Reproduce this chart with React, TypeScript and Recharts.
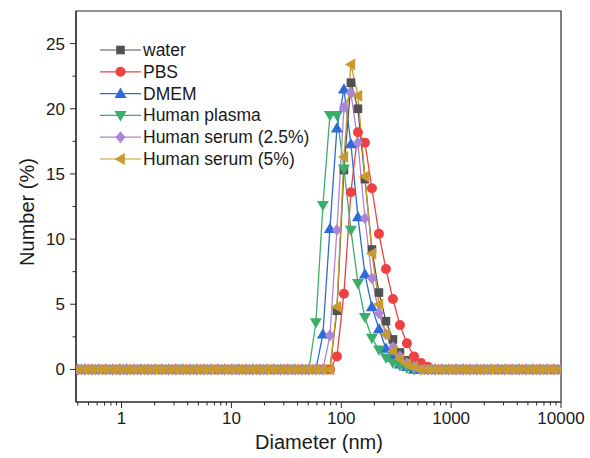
import React from 'react'
import { LineChart, Line, XAxis, YAxis, ReferenceArea, Label } from 'recharts'

// DLS size classes (nm)
const sizes = [
  0.4, 0.4632, 0.5365, 0.6213, 0.7195, 0.8332, 0.9649, 1.117, 1.294, 1.499,
  1.736, 2.01, 2.328, 2.696, 3.122, 3.615, 4.187, 4.849, 5.615, 6.503,
  7.531, 8.721, 10.1, 11.7, 13.54, 15.69, 18.17, 21.04, 24.36, 28.21,
  32.67, 37.84, 43.82, 50.75, 58.77, 68.06, 78.82, 91.28, 105.7, 122.4,
  141.8, 164.2, 190.1, 220.2, 255.0, 295.3, 342.0, 396.1, 458.7, 531.2,
  615.1, 712.4, 825.0, 955.4, 1106, 1281, 1484, 1718, 1990, 2305,
  2669, 3091, 3580, 4145, 4801, 5560, 6439, 7456, 8635, 10000,
]

// Number (%) per size class
const water = [
  0, 0, 0, 0, 0, 0, 0, 0, 0, 0,
  0, 0, 0, 0, 0, 0, 0, 0, 0, 0,
  0, 0, 0, 0, 0, 0, 0, 0, 0, 0,
  0, 0, 0, 0, 0, 0, 0, 4.5, 15.3, 22.0,
  20.0, 14.6, 9.2, 5.9, 3.7, 2.3, 1.3, 0.7, 0.3, 0.1,
  0, 0, 0, 0, 0, 0, 0, 0, 0, 0,
  0, 0, 0, 0, 0, 0, 0, 0, 0, 0,
]
const pbs = [
  0, 0, 0, 0, 0, 0, 0, 0, 0, 0,
  0, 0, 0, 0, 0, 0, 0, 0, 0, 0,
  0, 0, 0, 0, 0, 0, 0, 0, 0, 0,
  0, 0, 0, 0, 0, 0, 0, 1.0, 5.8, 13.6,
  18.2, 17.4, 13.9, 10.4, 7.7, 5.4, 3.4, 2.0, 1.0, 0.5,
  0.2, 0, 0, 0, 0, 0, 0, 0, 0, 0,
  0, 0, 0, 0, 0, 0, 0, 0, 0, 0,
]
const dmem = [
  0, 0, 0, 0, 0, 0, 0, 0, 0, 0,
  0, 0, 0, 0, 0, 0, 0, 0, 0, 0,
  0, 0, 0, 0, 0, 0, 0, 0, 0, 0,
  0, 0, 0, 0, 0, 2.7, 10.8, 18.5, 21.5, 17.3,
  11.7, 7.3, 4.8, 3.1, 1.6, 0.9, 0.4, 0.2, 0, 0,
  0, 0, 0, 0, 0, 0, 0, 0, 0, 0,
  0, 0, 0, 0, 0, 0, 0, 0, 0, 0,
]
const plasma = [
  0, 0, 0, 0, 0, 0, 0, 0, 0, 0,
  0, 0, 0, 0, 0, 0, 0, 0, 0, 0,
  0, 0, 0, 0, 0, 0, 0, 0, 0, 0,
  0, 0, 0, 0, 3.6, 12.6, 19.5, 19.5, 15.4, 10.7,
  6.6, 4.0, 2.4, 1.5, 0.9, 0.5, 0.3, 0.1, 0, 0,
  0, 0, 0, 0, 0, 0, 0, 0, 0, 0,
  0, 0, 0, 0, 0, 0, 0, 0, 0, 0,
]
const serum25 = [
  0, 0, 0, 0, 0, 0, 0, 0, 0, 0,
  0, 0, 0, 0, 0, 0, 0, 0, 0, 0,
  0, 0, 0, 0, 0, 0, 0, 0, 0, 0,
  0, 0, 0, 0, 0, 0, 2.6, 10.7, 20.1, 21.2,
  17.4, 11.6, 7.0, 4.3, 2.7, 1.7, 1.0, 0.5, 0.2, 0,
  0, 0, 0, 0, 0, 0, 0, 0, 0, 0,
  0, 0, 0, 0, 0, 0, 0, 0, 0, 0,
]
const serum5 = [
  0, 0, 0, 0, 0, 0, 0, 0, 0, 0,
  0, 0, 0, 0, 0, 0, 0, 0, 0, 0,
  0, 0, 0, 0, 0, 0, 0, 0, 0, 0,
  0, 0, 0, 0, 0, 0, 0, 4.8, 16.3, 23.4,
  21.0, 14.8, 8.9, 5.0, 2.7, 1.4, 0.8, 0.4, 0.2, 0,
  0, 0, 0, 0, 0, 0, 0, 0, 0, 0,
  0, 0, 0, 0, 0, 0, 0, 0, 0, 0,
]

const xMajor = [1, 10, 100, 1000, 10000]
const xMinor = [
  0.4, 0.5, 0.6, 0.7, 0.8, 0.9,
  2, 3, 4, 5, 6, 7, 8, 9,
  20, 30, 40, 50, 60, 70, 80, 90,
  200, 300, 400, 500, 600, 700, 800, 900,
  2000, 3000, 4000, 5000, 6000, 7000, 8000, 9000,
]
const yMajor = [0, 5, 10, 15, 20, 25]
const yMinor = [2.5, 7.5, 12.5, 17.5, 22.5]

const FONT = '"Liberation Sans", Arial, Helvetica, sans-serif'
const AXIS = '#2b2b2b'

type Shape = 'square' | 'circle' | 'up' | 'down' | 'diamond' | 'left'

const SERIES: { key: string; name: string; values: number[]; color: string; shape: Shape }[] = [
  { key: 'water', name: 'water', values: water, color: '#515151', shape: 'square' },
  { key: 'pbs', name: 'PBS', values: pbs, color: '#EE4242', shape: 'circle' },
  { key: 'dmem', name: 'DMEM', values: dmem, color: '#2C6BD8', shape: 'up' },
  { key: 'plasma', name: 'Human plasma', values: plasma, color: '#3BAE6C', shape: 'down' },
  { key: 'serum25', name: 'Human serum (2.5%)', values: serum25, color: '#AB86D8', shape: 'diamond' },
  { key: 'serum5', name: 'Human serum (5%)', values: serum5, color: '#C99A2E', shape: 'left' },
]

const data = sizes.map((d, i) => {
  const row: Record<string, number> = { d }
  SERIES.forEach((s) => {
    row[s.key] = s.values[i]
  })
  return row
})

const Marker = ({ shape, cx, cy, color }: { shape: Shape; cx: number; cy: number; color: string }) => {
  if (cx == null || cy == null) return null
  switch (shape) {
    case 'square':
      return <rect x={cx - 4.3} y={cy - 4.3} width={8.6} height={8.6} fill={color} />
    case 'circle':
      return <circle cx={cx} cy={cy} r={5} fill={color} />
    case 'up':
      return <polygon points={`${cx},${cy - 6} ${cx + 6},${cy + 4.3} ${cx - 6},${cy + 4.3}`} fill={color} />
    case 'down':
      return <polygon points={`${cx},${cy + 6} ${cx + 6},${cy - 4.3} ${cx - 6},${cy - 4.3}`} fill={color} />
    case 'diamond':
      return <polygon points={`${cx},${cy - 6} ${cx + 5},${cy} ${cx},${cy + 6} ${cx - 5},${cy}`} fill={color} />
    default:
      return <polygon points={`${cx - 6},${cy} ${cx + 4.3},${cy - 6} ${cx + 4.3},${cy + 6}`} fill={color} />
  }
}

const XTick = (props: any) => {
  const { x, y, payload } = props
  const major = xMajor.includes(payload.value)
  return (
    <g>
      <line x1={x} x2={x} y1={y} y2={y + (major ? 6 : 3.5)} stroke={AXIS} strokeWidth={1} />
      {major && (
        <text x={x} y={y + 22} textAnchor="middle" fontSize={17} fontFamily={FONT} fill="#1a1a1a">
          {payload.value}
        </text>
      )}
    </g>
  )
}

const YTick = (props: any) => {
  const { x, y, payload } = props
  const major = yMajor.includes(payload.value)
  return (
    <g>
      <line x1={x - (major ? 6 : 3.5)} x2={x} y1={y} y2={y} stroke={AXIS} strokeWidth={1} />
      {major && (
        <text x={x - 11} y={y + 6} textAnchor="end" fontSize={17} fontFamily={FONT} fill="#1a1a1a">
          {payload.value}
        </text>
      )}
    </g>
  )
}

const LegendBox = () => (
  <svg width={260} height={150} style={{ position: 'absolute', left: 0, top: 0, overflow: 'visible' }}>
    {SERIES.map((s, i) => {
      const cy = 50 + i * 21.8
      return (
        <g key={s.key}>
          <line x1={100} x2={141} y1={cy} y2={cy} stroke={s.color} strokeWidth={1.2} />
          <Marker shape={s.shape} cx={120.5} cy={cy} color={s.color} />
          <text x={143} y={cy + 6} fontSize={17.5} fontFamily={FONT} fill="#1a1a1a">
            {s.name}
          </text>
        </g>
      )
    })}
  </svg>
)

export default function App() {
  return (
    <div style={{ position: 'fixed', left: 0, top: 0, width: 590, height: 458, background: '#fff' }}>
      <LineChart width={590} height={458} data={data} margin={{ top: 11, right: 29, left: 16, bottom: 0 }}>
        <XAxis
          dataKey="d"
          type="number"
          scale="log"
          domain={[0.385, 10000]}
          allowDataOverflow
          ticks={[...xMinor, ...xMajor].sort((a, b) => a - b)}
          interval={0}
          tick={<XTick />}
          tickLine={false}
          tickSize={0}
          tickMargin={0}
          height={56}
          axisLine={{ stroke: AXIS, strokeWidth: 1.2 }}
        >
          <Label
            content={() => (
              <text x={319} y={449} textAnchor="middle" fontSize={20} fontFamily={FONT} fill="#1a1a1a">
                Diameter (nm)
              </text>
            )}
          />
        </XAxis>
        <YAxis
          type="number"
          domain={[-2.5, 27.5]}
          allowDataOverflow
          ticks={[...yMajor, ...yMinor].sort((a, b) => a - b)}
          interval={0}
          tick={<YTick />}
          tickLine={false}
          tickSize={0}
          tickMargin={0}
          width={60}
          axisLine={{ stroke: AXIS, strokeWidth: 1.2 }}
        >
          <Label
            content={() => (
              <text
                x={27}
                y={212}
                transform="rotate(-90 27 212)"
                textAnchor="middle"
                dominantBaseline="central"
                fontSize={20}
                fontFamily={FONT}
                fill="#1a1a1a"
              >
                Number (%)
              </text>
            )}
          />
        </YAxis>
        <ReferenceArea x1={0.385} x2={10000} y1={-2.5} y2={27.5} fill="none" stroke={AXIS} strokeWidth={1.2} ifOverflow="visible" />
        {SERIES.map((s) => (
          <Line
            key={s.key}
            dataKey={s.key}
            name={s.name}
            stroke={s.color}
            strokeWidth={1.3}
            type="linear"
            isAnimationActive={false}
            activeDot={false}
            dot={(p: any) => <Marker key={`${s.key}-${p.index}`} shape={s.shape} cx={p.cx} cy={p.cy} color={s.color} />}
          />
        ))}
      </LineChart>
      <div style={{ position: 'absolute', left: 0, top: 0, pointerEvents: 'none' }}>
        <LegendBox />
      </div>
    </div>
  )
}
